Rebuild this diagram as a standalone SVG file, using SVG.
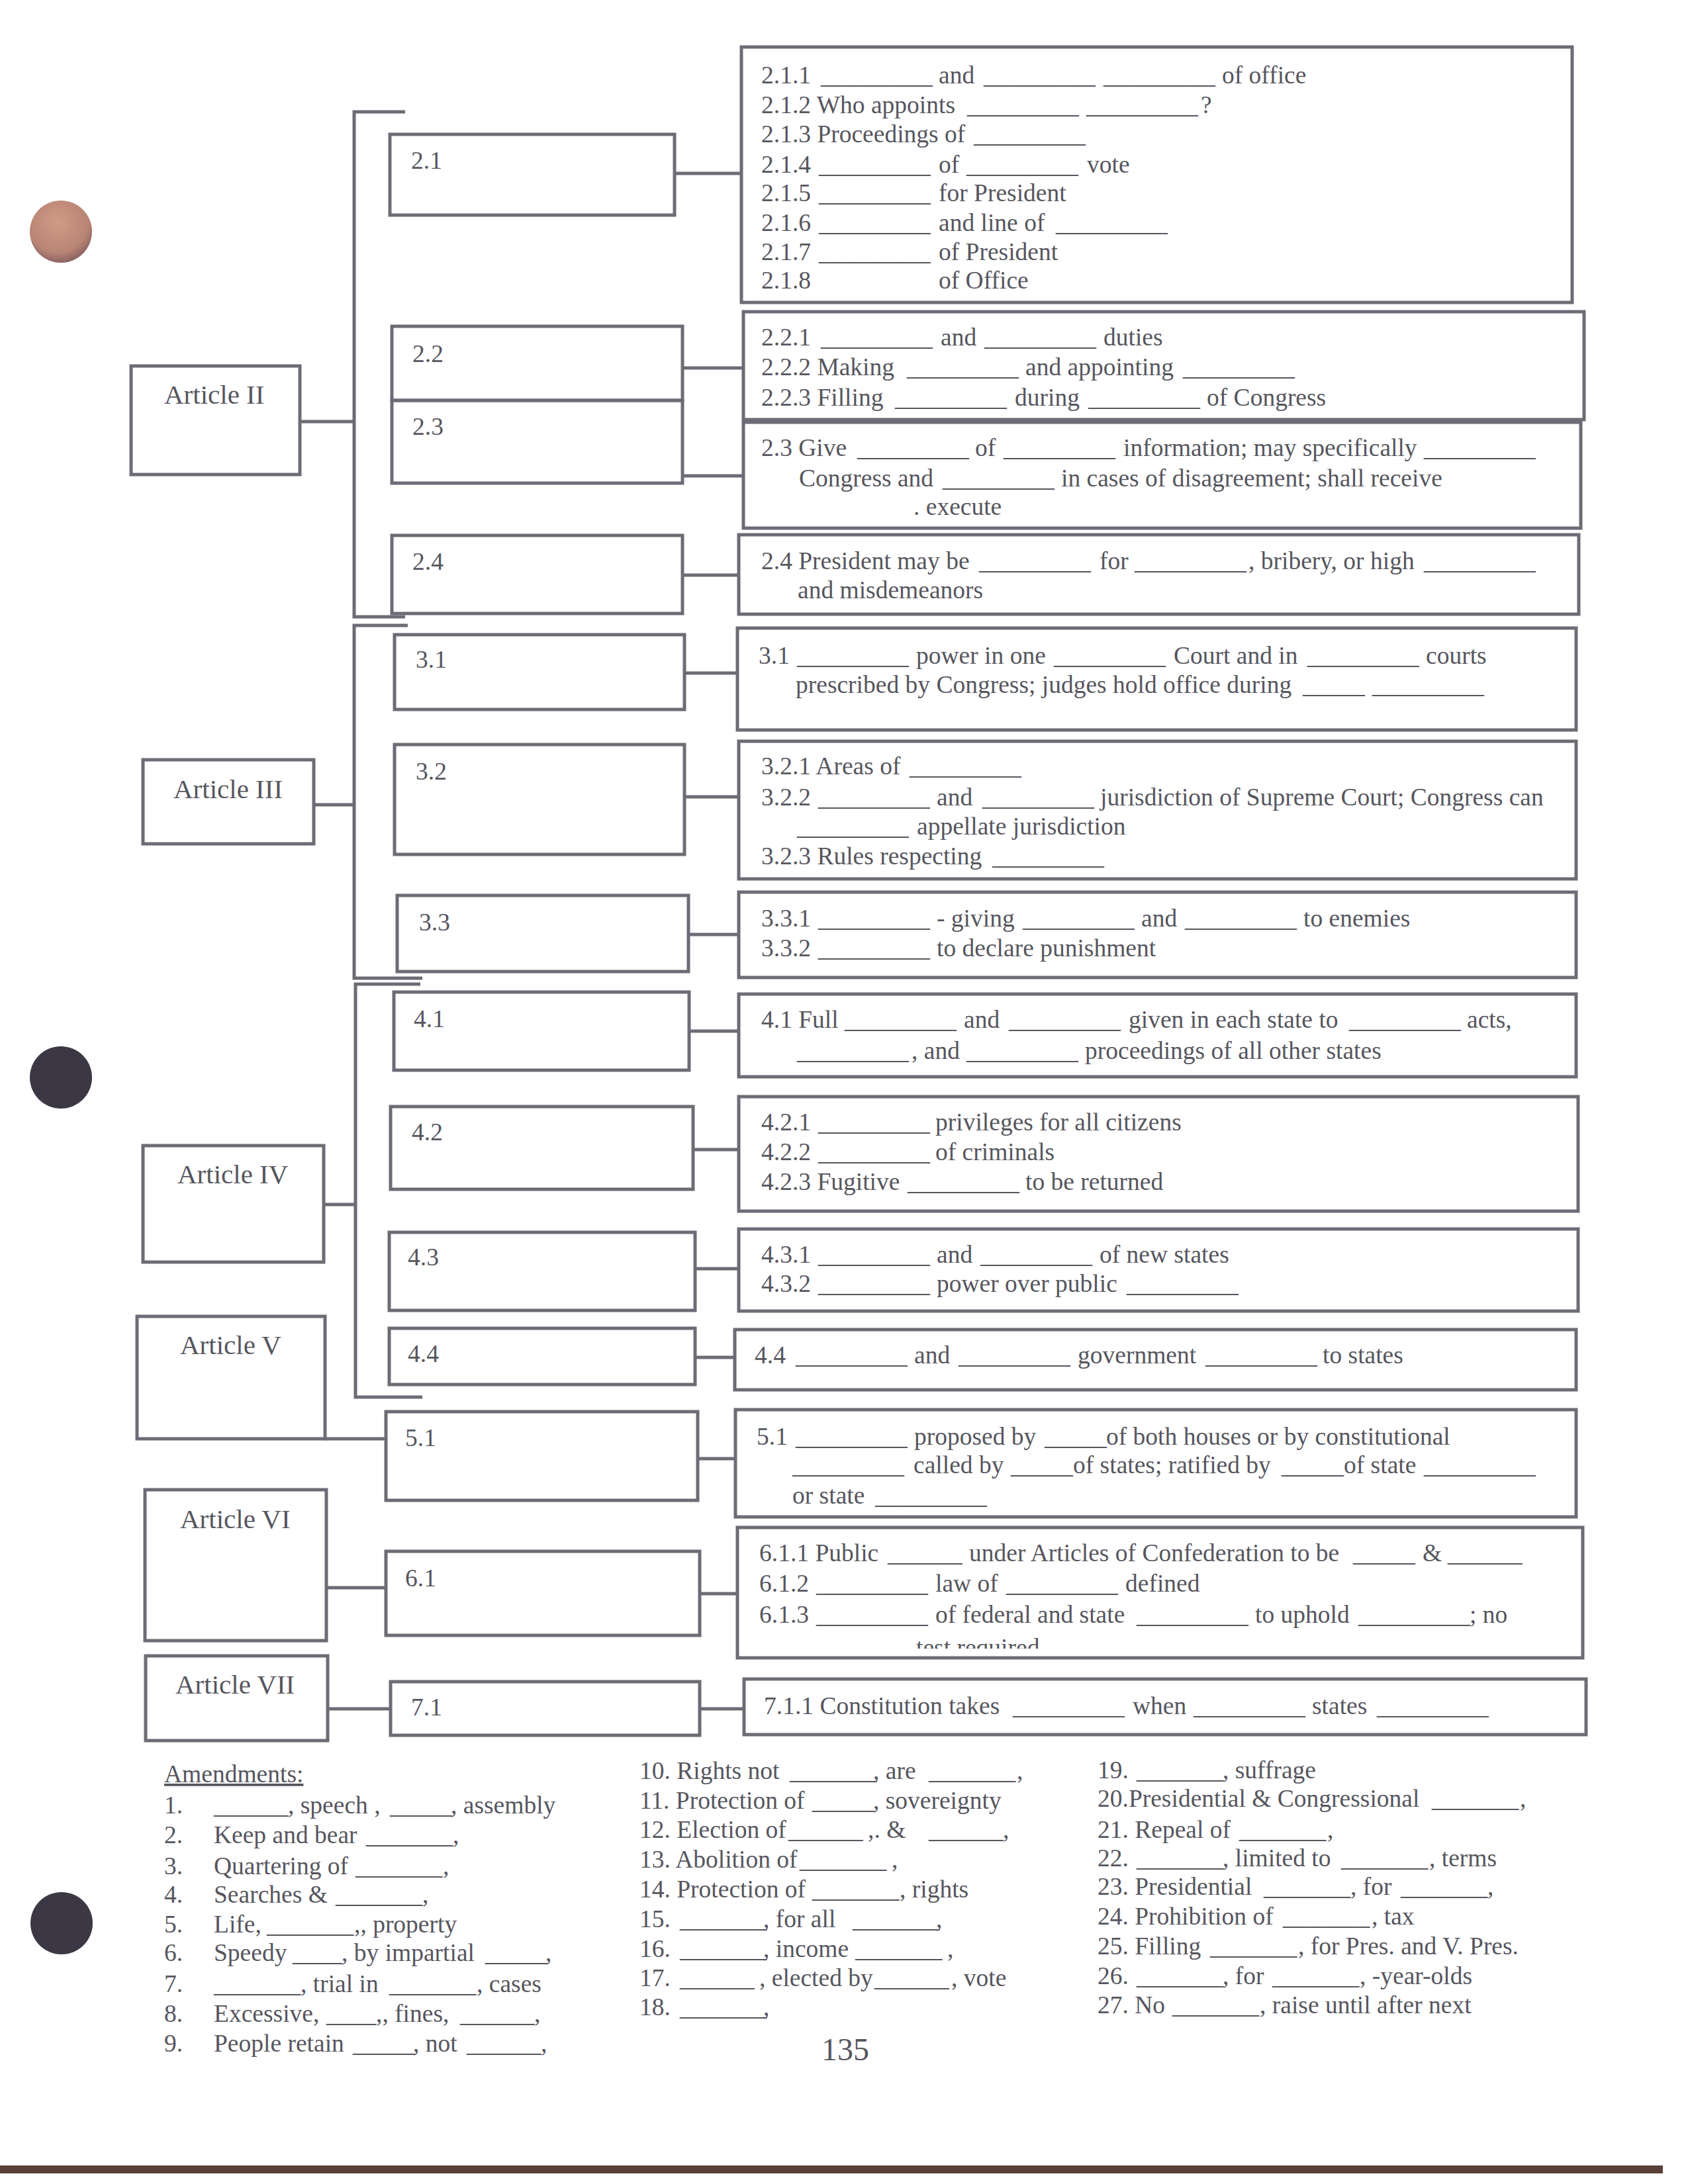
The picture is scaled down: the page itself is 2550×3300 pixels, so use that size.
<svg xmlns="http://www.w3.org/2000/svg" width="2550" height="3300" viewBox="0 0 2550 3300">
<defs>
<style>
.b{fill:none;stroke:#6c6c76;stroke-width:5}
.c{fill:none;stroke:#6c6c76;stroke-width:5}
.t{font-family:"Liberation Serif","Times New Roman",serif;font-size:37.5px;fill:#56565e}
.a{font-family:"Liberation Serif","Times New Roman",serif;font-size:41px;fill:#56565e}
</style>
<radialGradient id="hole1" cx="0.45" cy="0.35" r="0.7">
<stop offset="0" stop-color="#d19c86"/>
<stop offset="0.7" stop-color="#b88474"/>
<stop offset="1" stop-color="#7e5a5c"/>
</radialGradient>
<clipPath id="clip61"><rect x="1110" y="2300" width="1290" height="191"/></clipPath>
</defs>
<rect x="0" y="0" width="2550" height="3300" fill="#ffffff"/>
<circle cx="92" cy="350" r="47" fill="url(#hole1)"/>
<circle cx="92" cy="1628" r="47" fill="#3b3744"/>
<circle cx="93" cy="2906" r="47" fill="#3b3744"/>
<rect x="0" y="3272" width="2512" height="12" fill="#5a4038"/>

<g id="connectors">
<path class="c" d="M612,169 H535 V932 H612"/>
<path class="c" d="M453,637 H535"/>
<path class="c" d="M616,945 H535 V1478 H638"/>
<path class="c" d="M474,1216 H535"/>
<path class="c" d="M635,1487 H537 V2111 H638"/>
<path class="c" d="M489,1820 H537"/>
<path class="c" d="M491,2174 H583"/>
<path class="c" d="M493,2399 H583"/>
<path class="c" d="M495,2582 H590"/>
<path class="c" d="M1019,262 H1120"/>
<path class="c" d="M1031,556 H1123"/>
<path class="c" d="M1031,719 H1123"/>
<path class="c" d="M1031,869 H1116"/>
<path class="c" d="M1034,1017 H1114"/>
<path class="c" d="M1034,1204 H1116"/>
<path class="c" d="M1040,1412 H1116"/>
<path class="c" d="M1041,1558 H1116"/>
<path class="c" d="M1047,1737 H1116"/>
<path class="c" d="M1050,1917 H1116"/>
<path class="c" d="M1050,2051 H1110"/>
<path class="c" d="M1054,2204 H1111"/>
<path class="c" d="M1057,2408 H1114"/>
<path class="c" d="M1057,2582 H1124"/>
</g>

<g id="article-2"><rect class="b" x="198" y="553" width="255" height="164"/><text class="a" x="248" y="610">Article II</text></g>
<g id="article-3"><rect class="b" x="216" y="1148" width="258" height="127"/><text class="a" x="262" y="1206">Article III</text></g>
<g id="article-4"><rect class="b" x="216" y="1731" width="273" height="176"/><text class="a" x="268" y="1788">Article IV</text></g>
<g id="article-5"><rect class="b" x="207" y="1989" width="284" height="185"/><text class="a" x="272" y="2046">Article V</text></g>
<g id="article-6"><rect class="b" x="219" y="2251" width="274" height="228"/><text class="a" x="272" y="2309">Article VI</text></g>
<g id="article-7"><rect class="b" x="220" y="2502" width="275" height="128"/><text class="a" x="265" y="2559">Article VII</text></g>

<g id="s2-1"><rect class="b" x="589" y="203" width="430" height="122"/><text class="t" x="621" y="255">2.1</text></g>
<g id="s2-2"><rect class="b" x="592" y="493" width="439" height="112"/><text class="t" x="623" y="547">2.2</text></g>
<g id="s2-3"><rect class="b" x="592" y="605" width="439" height="125"/><text class="t" x="623" y="657">2.3</text></g>
<g id="s2-4"><rect class="b" x="592" y="809" width="439" height="118"/><text class="t" x="623" y="861">2.4</text></g>
<g id="s3-1"><rect class="b" x="596" y="959" width="438" height="113"/><text class="t" x="628" y="1009">3.1</text></g>
<g id="s3-2"><rect class="b" x="596" y="1125" width="438" height="166"/><text class="t" x="628" y="1178">3.2</text></g>
<g id="s3-3"><rect class="b" x="600" y="1353" width="440" height="115"/><text class="t" x="633" y="1406">3.3</text></g>
<g id="s4-1"><rect class="b" x="595" y="1499" width="446" height="118"/><text class="t" x="625" y="1552">4.1</text></g>
<g id="s4-2"><rect class="b" x="590" y="1672" width="457" height="125"/><text class="t" x="622" y="1723">4.2</text></g>
<g id="s4-3"><rect class="b" x="588" y="1862" width="462" height="118"/><text class="t" x="616" y="1912">4.3</text></g>
<g id="s4-4"><rect class="b" x="588" y="2007" width="462" height="85"/><text class="t" x="616" y="2058">4.4</text></g>
<g id="s5-1"><rect class="b" x="583" y="2133" width="471" height="134"/><text class="t" x="612" y="2185">5.1</text></g>
<g id="s6-1"><rect class="b" x="583" y="2344" width="474" height="127"/><text class="t" x="612" y="2397">6.1</text></g>
<g id="s7-1"><rect class="b" x="590" y="2541" width="467" height="81"/><text class="t" x="621" y="2592">7.1</text></g>

<g id="d2-1"><rect class="b" x="1120" y="71" width="1255" height="386"/>
<text class="t" y="126"><tspan x="1150">2.1.1</tspan><tspan x="1240">_________</tspan><tspan x="1418">and</tspan><tspan x="1486">_________</tspan><tspan x="1667">_________</tspan><tspan x="1846">of office</tspan></text>
<text class="t" y="171"><tspan x="1150">2.1.2 Who appoints</tspan><tspan x="1461">_________</tspan><tspan x="1641">_________</tspan><tspan x="1814">?</tspan></text>
<text class="t" y="215"><tspan x="1150">2.1.3 Proceedings of</tspan><tspan x="1471">_________</tspan></text>
<text class="t" y="261"><tspan x="1150">2.1.4</tspan><tspan x="1237">_________</tspan><tspan x="1418">of</tspan><tspan x="1460">_________</tspan><tspan x="1642">vote</tspan></text>
<text class="t" y="304"><tspan x="1150">2.1.5</tspan><tspan x="1237">_________</tspan><tspan x="1418">for President</tspan></text>
<text class="t" y="349"><tspan x="1150">2.1.6</tspan><tspan x="1237">_________</tspan><tspan x="1418">and line of</tspan><tspan x="1595">_________</tspan></text>
<text class="t" y="393"><tspan x="1150">2.1.7</tspan><tspan x="1237">_________</tspan><tspan x="1418">of President</tspan></text>
<text class="t" y="436"><tspan x="1150">2.1.8</tspan><tspan x="1418">of Office</tspan></text>
</g>

<g id="d2-2"><rect class="b" x="1123" y="471" width="1270" height="163"/>
<text class="t" y="522"><tspan x="1150">2.2.1</tspan><tspan x="1240">_________</tspan><tspan x="1421">and</tspan><tspan x="1487">_________</tspan><tspan x="1667">duties</tspan></text>
<text class="t" y="567"><tspan x="1150">2.2.2 Making</tspan><tspan x="1370">_________</tspan><tspan x="1549">and appointing</tspan><tspan x="1787">_________</tspan></text>
<text class="t" y="613"><tspan x="1150">2.2.3 Filling</tspan><tspan x="1352">_________</tspan><tspan x="1533">during</tspan><tspan x="1644">_________</tspan><tspan x="1823">of Congress</tspan></text>
</g>

<g id="d2-3"><rect class="b" x="1123" y="638" width="1265" height="160"/>
<text class="t" y="689"><tspan x="1150">2.3 Give</tspan><tspan x="1295">_________</tspan><tspan x="1473">of</tspan><tspan x="1516">_________</tspan><tspan x="1697">information; may specifically</tspan><tspan x="2151">_________</tspan></text>
<text class="t" y="735"><tspan x="1207">Congress and</tspan><tspan x="1424">_________</tspan><tspan x="1603">in cases of disagreement; shall receive</tspan></text>
<text class="t" x="1380" y="778">. execute</text>
</g>

<g id="d2-4"><rect class="b" x="1116" y="808" width="1269" height="120"/>
<text class="t" y="860"><tspan x="1150">2.4 President may be</tspan><tspan x="1479">_________</tspan><tspan x="1661">for</tspan><tspan x="1714">_________</tspan><tspan x="1886">, bribery, or high</tspan><tspan x="2151">_________</tspan></text>
<text class="t" x="1205" y="904">and misdemeanors</text>
</g>

<g id="d3-1"><rect class="b" x="1114" y="949" width="1267" height="154"/>
<text class="t" y="1003"><tspan x="1146">3.1</tspan><tspan x="1204">_________</tspan><tspan x="1384">power in one</tspan><tspan x="1592">_________</tspan><tspan x="1773">Court and in</tspan><tspan x="1975">_________</tspan><tspan x="2154">courts</tspan></text>
<text class="t" y="1047"><tspan x="1202">prescribed by Congress; judges hold office during</tspan><tspan x="1968">_____</tspan><tspan x="2073">_________</tspan></text>
</g>

<g id="d3-2"><rect class="b" x="1116" y="1120" width="1265" height="208"/>
<text class="t" y="1170"><tspan x="1150">3.2.1 Areas of</tspan><tspan x="1374">_________</tspan></text>
<text class="t" y="1217"><tspan x="1150">3.2.2</tspan><tspan x="1236">_________</tspan><tspan x="1415">and</tspan><tspan x="1484">_________</tspan><tspan x="1662">jurisdiction of Supreme Court; Congress can</tspan></text>
<text class="t" y="1261"><tspan x="1204">_________</tspan><tspan x="1385">appellate jurisdiction</tspan></text>
<text class="t" y="1306"><tspan x="1150">3.2.3 Rules respecting</tspan><tspan x="1499">_________</tspan></text>
</g>

<g id="d3-3"><rect class="b" x="1116" y="1348" width="1265" height="129"/>
<text class="t" y="1400"><tspan x="1150">3.3.1</tspan><tspan x="1236">_________</tspan><tspan x="1415">- giving</tspan><tspan x="1545">_________</tspan><tspan x="1724">and</tspan><tspan x="1790">_________</tspan><tspan x="1969">to enemies</tspan></text>
<text class="t" y="1445"><tspan x="1150">3.3.2</tspan><tspan x="1236">_________</tspan><tspan x="1415">to declare punishment</tspan></text>
</g>

<g id="d4-1"><rect class="b" x="1116" y="1502" width="1265" height="125"/>
<text class="t" y="1553"><tspan x="1150">4.1 Full</tspan><tspan x="1276">_________</tspan><tspan x="1456">and</tspan><tspan x="1524">_________</tspan><tspan x="1705">given in each state to</tspan><tspan x="2038">_________</tspan><tspan x="2216">acts,</tspan></text>
<text class="t" y="1600"><tspan x="1204">_________</tspan><tspan x="1377">, and</tspan><tspan x="1460">_________</tspan><tspan x="1639">proceedings of all other states</tspan></text>
</g>

<g id="d4-2"><rect class="b" x="1116" y="1657" width="1268" height="173"/>
<text class="t" y="1708"><tspan x="1150">4.2.1</tspan><tspan x="1236">_________</tspan><tspan x="1413">privileges for all citizens</tspan></text>
<text class="t" y="1753"><tspan x="1150">4.2.2</tspan><tspan x="1236">_________</tspan><tspan x="1413">of criminals</tspan></text>
<text class="t" y="1798"><tspan x="1150">4.2.3 Fugitive</tspan><tspan x="1371">_________</tspan><tspan x="1549">to be returned</tspan></text>
</g>

<g id="d4-3"><rect class="b" x="1116" y="1857" width="1268" height="124"/>
<text class="t" y="1908"><tspan x="1150">4.3.1</tspan><tspan x="1236">_________</tspan><tspan x="1415">and</tspan><tspan x="1481">_________</tspan><tspan x="1661">of new states</tspan></text>
<text class="t" y="1952"><tspan x="1150">4.3.2</tspan><tspan x="1236">_________</tspan><tspan x="1415">power over public</tspan><tspan x="1702">_________</tspan></text>
</g>

<g id="d4-4"><rect class="b" x="1110" y="2009" width="1271" height="91"/>
<text class="t" y="2060"><tspan x="1140">4.4</tspan><tspan x="1202">_________</tspan><tspan x="1381">and</tspan><tspan x="1448">_________</tspan><tspan x="1628">government</tspan><tspan x="1821">_________</tspan><tspan x="1998">to states</tspan></text>
</g>

<g id="d5-1"><rect class="b" x="1111" y="2130" width="1270" height="162"/>
<text class="t" y="2183"><tspan x="1143">5.1</tspan><tspan x="1202">_________</tspan><tspan x="1381">proposed by</tspan><tspan x="1578">_____</tspan><tspan x="1671">of both houses or by constitutional</tspan></text>
<text class="t" y="2226"><tspan x="1197">_________</tspan><tspan x="1380">called by</tspan><tspan x="1527">_____</tspan><tspan x="1621">of states; ratified by</tspan><tspan x="1936">_____</tspan><tspan x="2030">of state</tspan><tspan x="2151">_________</tspan></text>
<text class="t" y="2272"><tspan x="1197">or state</tspan><tspan x="1322">_________</tspan></text>
</g>

<g id="d6-1"><rect class="b" x="1114" y="2308" width="1277" height="197"/>
<text class="t" y="2359"><tspan x="1147">6.1.1 Public</tspan><tspan x="1341">______</tspan><tspan x="1464">under Articles of Confederation to be</tspan><tspan x="2044">_____</tspan><tspan x="2149">&amp;</tspan><tspan x="2187">______</tspan></text>
<text class="t" y="2405"><tspan x="1147">6.1.2</tspan><tspan x="1233">_________</tspan><tspan x="1413">law of</tspan><tspan x="1520">_________</tspan><tspan x="1700">defined</tspan></text>
<text class="t" y="2452"><tspan x="1147">6.1.3</tspan><tspan x="1233">_________</tspan><tspan x="1413">of federal and state</tspan><tspan x="1717">_________</tspan><tspan x="1896">to uphold</tspan><tspan x="2052">_________</tspan><tspan x="2220">; no</tspan></text>
<text class="t" x="1384" y="2502" clip-path="url(#clip61)">test required</text>
</g>

<g id="d7-1"><rect class="b" x="1124" y="2537" width="1272" height="84"/>
<text class="t" y="2590"><tspan x="1154">7.1.1 Constitution takes</tspan><tspan x="1530">_________</tspan><tspan x="1711">when</tspan><tspan x="1803">_________</tspan><tspan x="1982">states</tspan><tspan x="2080">_________</tspan></text>
</g>

<g id="amendments">
<text class="t" x="248" y="2693" text-decoration="underline">Amendments:</text>
<text class="t" y="2740"><tspan x="248">1.</tspan><tspan x="323">______</tspan><tspan x="435">, speech ,</tspan><tspan x="589">_____</tspan><tspan x="681">, assembly</tspan></text>
<text class="t" y="2785"><tspan x="248">2.</tspan><tspan x="323">Keep and bear</tspan><tspan x="553">_______</tspan><tspan x="684">,</tspan></text>
<text class="t" y="2832"><tspan x="248">3.</tspan><tspan x="323">Quartering of</tspan><tspan x="537">_______</tspan><tspan x="669">,</tspan></text>
<text class="t" y="2875"><tspan x="248">4.</tspan><tspan x="323">Searches &amp;</tspan><tspan x="507">_______</tspan><tspan x="638">,</tspan></text>
<text class="t" y="2920"><tspan x="248">5.</tspan><tspan x="323">Life,</tspan><tspan x="403">_______</tspan><tspan x="535">,, property</tspan></text>
<text class="t" y="2963"><tspan x="248">6.</tspan><tspan x="323">Speedy</tspan><tspan x="442">____</tspan><tspan x="516">, by impartial</tspan><tspan x="733">_____</tspan><tspan x="824">,</tspan></text>
<text class="t" y="3010"><tspan x="248">7.</tspan><tspan x="323">_______</tspan><tspan x="454">, trial in</tspan><tspan x="588">_______</tspan><tspan x="720">, cases</tspan></text>
<text class="t" y="3055"><tspan x="248">8.</tspan><tspan x="323">Excessive,</tspan><tspan x="493">____</tspan><tspan x="568">,, fines,</tspan><tspan x="695">______</tspan><tspan x="807">,</tspan></text>
<text class="t" y="3100"><tspan x="248">9.</tspan><tspan x="323">People retain</tspan><tspan x="533">_____</tspan><tspan x="624">, not</tspan><tspan x="705">______</tspan><tspan x="817">,</tspan></text>

<text class="t" y="2688"><tspan x="966">10. Rights not</tspan><tspan x="1193">_______</tspan><tspan x="1319">, are</tspan><tspan x="1403">_______</tspan><tspan x="1536">,</tspan></text>
<text class="t" y="2733"><tspan x="966">11. Protection of</tspan><tspan x="1227">_____</tspan><tspan x="1319">, sovereignty</tspan></text>
<text class="t" y="2777"><tspan x="966">12. Election of</tspan><tspan x="1191">______</tspan><tspan x="1311">,. &amp;</tspan><tspan x="1403">______</tspan><tspan x="1515">,</tspan></text>
<text class="t" y="2822"><tspan x="966">13. Abolition of</tspan><tspan x="1208">_______</tspan><tspan x="1347">,</tspan></text>
<text class="t" y="2867"><tspan x="966">14. Protection of</tspan><tspan x="1227">_______</tspan><tspan x="1359">, rights</tspan></text>
<text class="t" y="2912"><tspan x="966">15.</tspan><tspan x="1027">_______</tspan><tspan x="1153">, for all</tspan><tspan x="1288">_______</tspan><tspan x="1414">,</tspan></text>
<text class="t" y="2957"><tspan x="966">16.</tspan><tspan x="1027">_______</tspan><tspan x="1153">, income</tspan><tspan x="1292">_______</tspan><tspan x="1431">,</tspan></text>
<text class="t" y="3001"><tspan x="966">17.</tspan><tspan x="1027">______</tspan><tspan x="1147">, elected by</tspan><tspan x="1321">______</tspan><tspan x="1437">, vote</tspan></text>
<text class="t" y="3045"><tspan x="966">18.</tspan><tspan x="1027">_______</tspan><tspan x="1153">,</tspan></text>

<text class="t" y="2687"><tspan x="1658">19.</tspan><tspan x="1717">_______</tspan><tspan x="1847">, suffrage</tspan></text>
<text class="t" y="2730"><tspan x="1658">20.Presidential &amp; Congressional</tspan><tspan x="2163">_______</tspan><tspan x="2296">,</tspan></text>
<text class="t" y="2777"><tspan x="1658">21. Repeal of</tspan><tspan x="1872">_______</tspan><tspan x="2005">,</tspan></text>
<text class="t" y="2820"><tspan x="1658">22.</tspan><tspan x="1717">_______</tspan><tspan x="1847">, limited to</tspan><tspan x="2026">_______</tspan><tspan x="2159">, terms</tspan></text>
<text class="t" y="2863"><tspan x="1658">23. Presidential</tspan><tspan x="1909">_______</tspan><tspan x="2040">, for</tspan><tspan x="2116">_______</tspan><tspan x="2247">,</tspan></text>
<text class="t" y="2908"><tspan x="1658">24. Prohibition of</tspan><tspan x="1938">_______</tspan><tspan x="2072">, tax</tspan></text>
<text class="t" y="2953"><tspan x="1658">25. Filling</tspan><tspan x="1828">_______</tspan><tspan x="1961">, for Pres. and V. Pres.</tspan></text>
<text class="t" y="2998"><tspan x="1658">26.</tspan><tspan x="1717">_______</tspan><tspan x="1847">, for</tspan><tspan x="1922">_______</tspan><tspan x="2054">, -year-olds</tspan></text>
<text class="t" y="3042"><tspan x="1658">27. No</tspan><tspan x="1771">_______</tspan><tspan x="1903">, raise until after next</tspan></text>
</g>

<text id="page-number" x="1241" y="3113" style="font-family:'Liberation Serif','Times New Roman',serif;font-size:48px;fill:#56565e">135</text>
</svg>
